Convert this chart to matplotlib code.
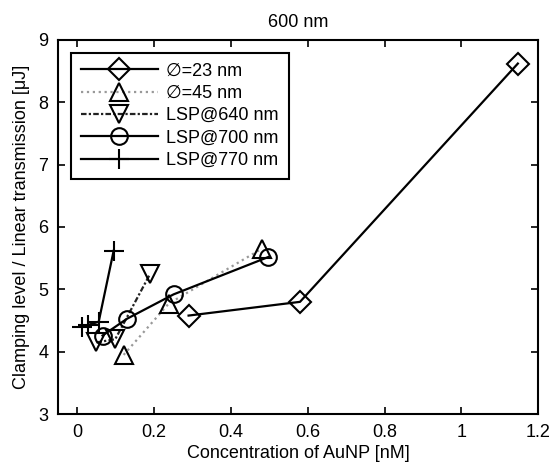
import numpy as np
import matplotlib.pyplot as plt

plt.rcParams['font.family'] = ['Liberation Sans', 'DejaVu Sans']
plt.rcParams['font.size'] = 13

# data
x_23 = [0.29, 0.58, 1.147]
y_23 = [4.58, 4.80, 8.62]

x_45 = [0.121, 0.238, 0.48]
y_45 = [3.95, 4.77, 5.65]

x_640 = [0.050, 0.099, 0.19]
y_640 = [4.15, 4.20, 5.25]

x_700 = [0.066, 0.13, 0.251, 0.498]
y_700 = [4.26, 4.53, 4.92, 5.52]

x_770 = [0.013, 0.028, 0.056, 0.095]
y_770 = [4.40, 4.43, 4.48, 5.62]

labels = ['\u2205=23 nm', '\u2205=45 nm', 'LSP@640 nm', 'LSP@700 nm', 'LSP@770 nm']

fig = plt.figure(figsize=(5.52, 4.69), dpi=100)
ax = fig.add_axes([0.105, 0.117, 0.87, 0.798])

mk = dict(markerfacecolor='none', markeredgecolor='black', markeredgewidth=1.5)
ax.plot(x_23, y_23, '-', color='black', lw=1.6, marker='D', ms=11, label=labels[0], **mk)
ax.plot(x_45, y_45, ':', color='#999999', lw=1.6, marker='^', ms=13, label=labels[1], **mk)
ax.plot(x_640, y_640, color='#222222', lw=1.6, dashes=(2.5, 1, 1, 1),
        marker='v', ms=13, label=labels[2], **mk)
ax.plot(x_700, y_700, '-', color='black', lw=1.6, marker='o', ms=12, label=labels[3], **mk)
ax.plot(x_770, y_770, '-', color='black', lw=1.6, marker='+', ms=14, label=labels[4], **mk)

ax.set_xlim(-0.05, 1.2)
ax.set_ylim(3, 9)
ax.set_xticks([0, 0.2, 0.4, 0.6, 0.8, 1, 1.2])
ax.set_xticklabels(['0', '0.2', '0.4', '0.6', '0.8', '1', '1.2'])
ax.set_yticks(range(3, 10))
ax.tick_params(direction='in', top=True, right=True, length=5, width=1.2, pad=7)
for s in ax.spines.values():
    s.set_linewidth(1.5)

ax.set_xlabel('Concentration of AuNP [nM]', labelpad=3)
ax.set_ylabel('Clamping level / Linear transmission [\u03bcJ]', labelpad=6)
ax.set_title('600 nm', fontsize=13, pad=9)

leg = ax.legend(loc='upper left', handlelength=4.3, borderaxespad=0.7, fancybox=False,
                edgecolor='black', framealpha=1, labelspacing=0.3, borderpad=0.55,
                handletextpad=0.45)
leg.get_frame().set_linewidth(1.5)

fig.savefig('out.png', dpi=100)
